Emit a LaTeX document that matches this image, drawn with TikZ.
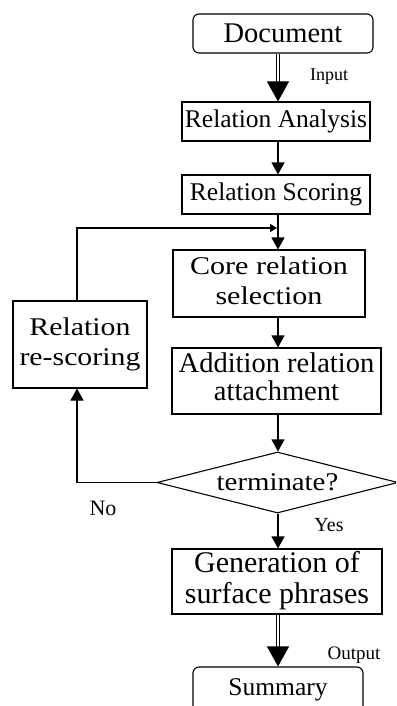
\documentclass[tikz,border=0pt]{standalone}
\usepackage{fontspec}
\setmainfont{Liberation Serif}
\usetikzlibrary{arrows.meta,shapes.geometric}
\newcommand{\hsc}[2]{\scalebox{#1}[1]{#2}}
\newcommand{\twol}[2]{\begin{tabular}{@{}c@{}}#1\\#2\end{tabular}}
\begin{document}
\begin{tikzpicture}[x=1pt,y=-1pt,
  box/.style={draw=black, line width=1.1pt, inner sep=0pt, align=center},
  rbox/.style={box, rounded corners=6pt},
  arr/.style={line width=1.1pt, -{Triangle[length=12pt,width=13pt]}},
  smallarr/.style={line width=1.1pt, -{Triangle[length=7pt,width=8pt]}},
  dshaft/.style={double=white, double distance=2.6pt, line width=1.1pt, shorten >=16pt},
  dhead/.style={line width=1.1pt, -{Triangle[length=20pt,width=22pt]}},
  lbl/.style={inner sep=0pt}]
\useasboundingbox (0,0) rectangle (396,706);
\clip (0,0) rectangle (396,706);
\fill[white] (0,0) rectangle (396,706);

\coordinate (axis) at (278,0);

\node[rbox, minimum width=180pt, minimum height=39pt, font=\fontsize{28.5}{30}\selectfont] (doc) at (283,33.5) {Document};
\node[box, minimum width=188pt, minimum height=39pt, font=\fontsize{25.5}{30}\selectfont] (ana) at (276,121.5) {Relation Analysis};
\node[box, minimum width=188pt, minimum height=39pt, font=\fontsize{25.5}{30}\selectfont] (sco) at (276,194.5) {Relation Scoring};
\node[box, minimum width=192pt, minimum height=67pt, font=\fontsize{25.5}{30}\selectfont] (core) at (269,283.5) {\raisebox{-3.5pt}{\hsc{1.18}{\twol{Core relation}{selection}}}};
\node[box, minimum width=134pt, minimum height=87pt, font=\fontsize{25.5}{30}\selectfont] (resc) at (80,344.5) {\hsc{1.17}{\twol{Relation}{re-scoring}}};
\node[box, minimum width=209pt, minimum height=66pt, font=\fontsize{28.5}{28}\selectfont] (add) at (276.5,381) {\raisebox{-4.5pt}{\twol{Addition relation}{attachment}}};
\node[draw=black, line width=1.1pt, diamond, aspect=3.95, inner sep=0pt, minimum width=241pt, minimum height=61pt, font=\fontsize{25.5}{30}\selectfont] (diam) at (277.5,482.5) {\hsc{1.13}{terminate?}};
\node[box, minimum width=210pt, minimum height=65pt, font=\fontsize{30}{31}\selectfont] (gen) at (277,581.5) {\raisebox{-5pt}{\twol{Generation of}{surface phrases}}};
\node[rbox, minimum width=170pt, minimum height=46pt, font=\fontsize{25.5}{30}\selectfont] (sum) at (278,690) {Summary};

\node[lbl, font=\fontsize{18}{18}\selectfont] (inlbl) at (329,77) {Input};
\node[lbl, font=\fontsize{19}{19}\selectfont] (outlbl) at (354,655) {Output};
\node[lbl, font=\fontsize{22}{22}\selectfont] (nolbl) at (103,508) {No};
\node[lbl, font=\fontsize{20}{20}\selectfont] (yeslbl) at (329,525) {Yes};

% double arrows
\draw[dshaft] (doc.south -| axis) -- (ana.north -| axis);
\draw[dhead, shorten <=28pt] (doc.south -| axis) -- (ana.north -| axis);
\draw[dshaft] (gen.south -| axis) -- (sum.north -| axis);
\draw[dhead, shorten <=33pt] (gen.south -| axis) -- (sum.north -| axis);

% single arrows
\draw[arr] (ana.south -| axis) -- (sco.north -| axis);
\draw[arr] (sco.south -| axis) -- (core.north -| axis);
\draw[arr] (core.south -| axis) -- (add.north -| axis);
\draw[arr] (add.south -| axis) -- (diam.north -| axis);
\draw[arr] (diam.south -| axis) -- (gen.north -| axis);

% loop
\coordinate (lx) at (77,0);
\coordinate (junc) at (277,228);
\draw[arr] (diam.west) -- (diam.west -| lx) -- (resc.south -| lx);
\draw[smallarr] (resc.north -| lx) -- (junc -| lx) -- (junc);
\end{tikzpicture}
\end{document}
